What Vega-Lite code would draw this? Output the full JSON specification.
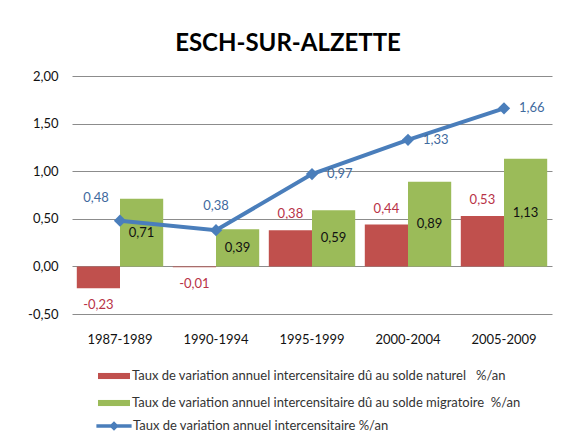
{
  "$schema": "https://vega.github.io/schema/vega-lite/v6.json",
  "width": 480,
  "height": 238,
  "autosize": {"type": "none"},
  "padding": {"left": 72, "top": 76, "right": 12, "bottom": 118},
  "background": "white",
  "title": {"text": "ESCH-SUR-ALZETTE", "fontSize": 24, "font": "Lato", "fontWeight": "bold", "color": "#000000", "anchor": "middle", "dx": -24, "dy": 27, "offset": 22, "baseline": "alphabetic"},
  "config": {
    "locale": {"number": {"decimal": ",", "thousands": " ", "grouping": [3], "currency": ["", " €"], "minus": "-"}},
    "view": {"stroke": null},
    "font": "Lato"
  },
  "resolve": {"scale": {"y": "independent"}},
  "data": {"values": [
    {"period": "1987-1989", "series": "Taux de variation annuel intercensitaire dû au solde naturel\u00a0\u00a0 %/an", "value": -0.23},
    {"period": "1990-1994", "series": "Taux de variation annuel intercensitaire dû au solde naturel\u00a0\u00a0 %/an", "value": -0.01},
    {"period": "1995-1999", "series": "Taux de variation annuel intercensitaire dû au solde naturel\u00a0\u00a0 %/an", "value": 0.38},
    {"period": "2000-2004", "series": "Taux de variation annuel intercensitaire dû au solde naturel\u00a0\u00a0 %/an", "value": 0.44},
    {"period": "2005-2009", "series": "Taux de variation annuel intercensitaire dû au solde naturel\u00a0\u00a0 %/an", "value": 0.53},
    {"period": "1987-1989", "series": "Taux de variation annuel intercensitaire dû au solde migratoire\u00a0 %/an", "value": 0.71},
    {"period": "1990-1994", "series": "Taux de variation annuel intercensitaire dû au solde migratoire\u00a0 %/an", "value": 0.39},
    {"period": "1995-1999", "series": "Taux de variation annuel intercensitaire dû au solde migratoire\u00a0 %/an", "value": 0.59},
    {"period": "2000-2004", "series": "Taux de variation annuel intercensitaire dû au solde migratoire\u00a0 %/an", "value": 0.89},
    {"period": "2005-2009", "series": "Taux de variation annuel intercensitaire dû au solde migratoire\u00a0 %/an", "value": 1.13},
    {"period": "1987-1989", "series": "Taux de variation annuel intercensitaire %/an", "value": 0.48},
    {"period": "1990-1994", "series": "Taux de variation annuel intercensitaire %/an", "value": 0.38},
    {"period": "1995-1999", "series": "Taux de variation annuel intercensitaire %/an", "value": 0.97},
    {"period": "2000-2004", "series": "Taux de variation annuel intercensitaire %/an", "value": 1.33},
    {"period": "2005-2009", "series": "Taux de variation annuel intercensitaire %/an", "value": 1.66}
  ]},
  "encoding": {
    "x": {
      "field": "period", "type": "nominal", "sort": null,
      "scale": {"paddingInner": 0.1, "paddingOuter": 0.05},
      "axis": {"title": null, "domain": false, "ticks": false, "labelAngle": 0, "labelFontSize": 13, "labelColor": "#111111", "labelPadding": 19, "labelFont": "Lato"}
    }
  },
  "layer": [
    {
      "transform": [{"filter": "datum.series != 'Taux de variation annuel intercensitaire %/an'"}],
      "mark": {"type": "bar"},
      "encoding": {
        "xOffset": {"field": "series", "type": "nominal", "sort": null, "scale": {"paddingInner": 0, "paddingOuter": 0}},
        "y": {
          "field": "value", "type": "quantitative",
          "scale": {"domain": [-0.5, 2], "nice": false, "zero": false},
          "axis": {"title": null, "values": [-0.5, 0, 0.5, 1, 1.5, 2], "format": ".2f", "domain": false, "ticks": false, "gridColor": "#8c8c8c", "gridWidth": 1, "gridOpacity": 1, "labelFontSize": 13, "labelColor": "#111111", "labelPadding": 14, "labelFont": "Lato"}
        },
        "fill": {
          "field": "series", "type": "nominal", "sort": null,
          "scale": {"range": ["#c0504d", "#9bbb59"]},
          "legend": {"title": null, "orient": "none", "legendX": 34, "legendY": 292, "direction": "vertical", "symbolType": "M-2,-0.38H2V0.38H-2Z", "symbolSize": 256, "symbolStrokeWidth": 0, "labelOffset": 10, "rowPadding": 12, "labelFontSize": 13, "labelColor": "#333333", "labelFont": "Lato", "labelLimit": 0}
        }
      }
    },
    {
      "transform": [{"filter": "datum.series == 'Taux de variation annuel intercensitaire dû au solde naturel\u00a0\u00a0 %/an' && datum.value >= 0"}],
      "mark": {"type": "text", "baseline": "middle", "dy": -16, "fontSize": 13, "color": "#b83247", "font": "Lato"},
      "encoding": {
        "xOffset": {"datum": "Taux de variation annuel intercensitaire dû au solde naturel\u00a0\u00a0 %/an"},
        "y": {"field": "value", "type": "quantitative", "scale": {"domain": [-0.5, 2], "nice": false, "zero": false}, "axis": null},
        "text": {"field": "value", "type": "quantitative", "format": ".2f"}
      }
    },
    {
      "transform": [{"filter": "datum.series == 'Taux de variation annuel intercensitaire dû au solde naturel\u00a0\u00a0 %/an' && datum.value < 0"}],
      "mark": {"type": "text", "baseline": "middle", "dy": 17, "fontSize": 13, "color": "#b83247", "font": "Lato"},
      "encoding": {
        "xOffset": {"datum": "Taux de variation annuel intercensitaire dû au solde naturel\u00a0\u00a0 %/an"},
        "y": {"field": "value", "type": "quantitative", "scale": {"domain": [-0.5, 2], "nice": false, "zero": false}, "axis": null},
        "text": {"field": "value", "type": "quantitative", "format": ".2f"}
      }
    },
    {
      "transform": [{"filter": "datum.series == 'Taux de variation annuel intercensitaire dû au solde migratoire\u00a0 %/an'"}],
      "mark": {"type": "text", "baseline": "middle", "fontSize": 13, "color": "#111111", "font": "Lato"},
      "encoding": {
        "xOffset": {"datum": "Taux de variation annuel intercensitaire dû au solde migratoire\u00a0 %/an"},
        "y": {"field": "value", "type": "quantitative", "scale": {"domain": [-1, 4], "nice": false, "zero": false}, "axis": null},
        "text": {"field": "value", "type": "quantitative", "format": ".2f"}
      }
    },
    {
      "transform": [{"filter": "datum.series == 'Taux de variation annuel intercensitaire %/an'"}],
      "mark": {"type": "line", "strokeWidth": 4},
      "encoding": {
        "y": {"field": "value", "type": "quantitative", "scale": {"domain": [-0.5, 2], "nice": false, "zero": false}, "axis": null},
        "stroke": {
          "field": "series", "type": "nominal",
          "scale": {"range": ["#4a7ebb"]},
          "legend": {"title": null, "orient": "none", "legendX": 34, "legendY": 342, "symbolType": "M-2.2,-0.22H2.2V0.22H-2.2Z M0,-0.6L0.6,0L0,0.6L-0.6,0Z", "symbolSize": 256, "symbolStrokeWidth": 0, "symbolFillColor": "#4a7ebb", "labelOffset": 11, "labelFontSize": 13, "labelColor": "#333333", "labelFont": "Lato", "labelLimit": 0,
            "encode": {"symbols": {"update": {"fill": {"value": "#4a7ebb"}, "strokeWidth": {"value": 0}}}}}
        }
      }
    },
    {
      "transform": [{"filter": "datum.series == 'Taux de variation annuel intercensitaire %/an'"}],
      "mark": {"type": "point", "shape": "diamond", "size": 150, "filled": true, "color": "#4a7ebb", "opacity": 1},
      "encoding": {
        "y": {"field": "value", "type": "quantitative", "scale": {"domain": [-0.5, 2], "nice": false, "zero": false}, "axis": null}
      }
    },
    {
      "transform": [{"filter": "datum.series == 'Taux de variation annuel intercensitaire %/an' && datum.period == '1987-1989'"}],
      "mark": {"type": "text", "baseline": "middle", "dx": -24, "dy": -23, "fontSize": 13, "color": "#3f6a9e", "font": "Lato"},
      "encoding": {
        "y": {"field": "value", "type": "quantitative", "scale": {"domain": [-0.5, 2], "nice": false, "zero": false}, "axis": null},
        "text": {"field": "value", "type": "quantitative", "format": ".2f"}
      }
    },
    {
      "transform": [{"filter": "datum.series == 'Taux de variation annuel intercensitaire %/an' && datum.period == '1990-1994'"}],
      "mark": {"type": "text", "baseline": "middle", "dy": -24, "fontSize": 13, "color": "#3f6a9e", "font": "Lato"},
      "encoding": {
        "y": {"field": "value", "type": "quantitative", "scale": {"domain": [-0.5, 2], "nice": false, "zero": false}, "axis": null},
        "text": {"field": "value", "type": "quantitative", "format": ".2f"}
      }
    },
    {
      "transform": [{"filter": "datum.series == 'Taux de variation annuel intercensitaire %/an' && datum.value > 0.9"}],
      "mark": {"type": "text", "baseline": "middle", "align": "left", "dx": 15, "fontSize": 13, "color": "#3f6a9e", "font": "Lato"},
      "encoding": {
        "y": {"field": "value", "type": "quantitative", "scale": {"domain": [-0.5, 2], "nice": false, "zero": false}, "axis": null},
        "text": {"field": "value", "type": "quantitative", "format": ".2f"}
      }
    }
  ]
}
